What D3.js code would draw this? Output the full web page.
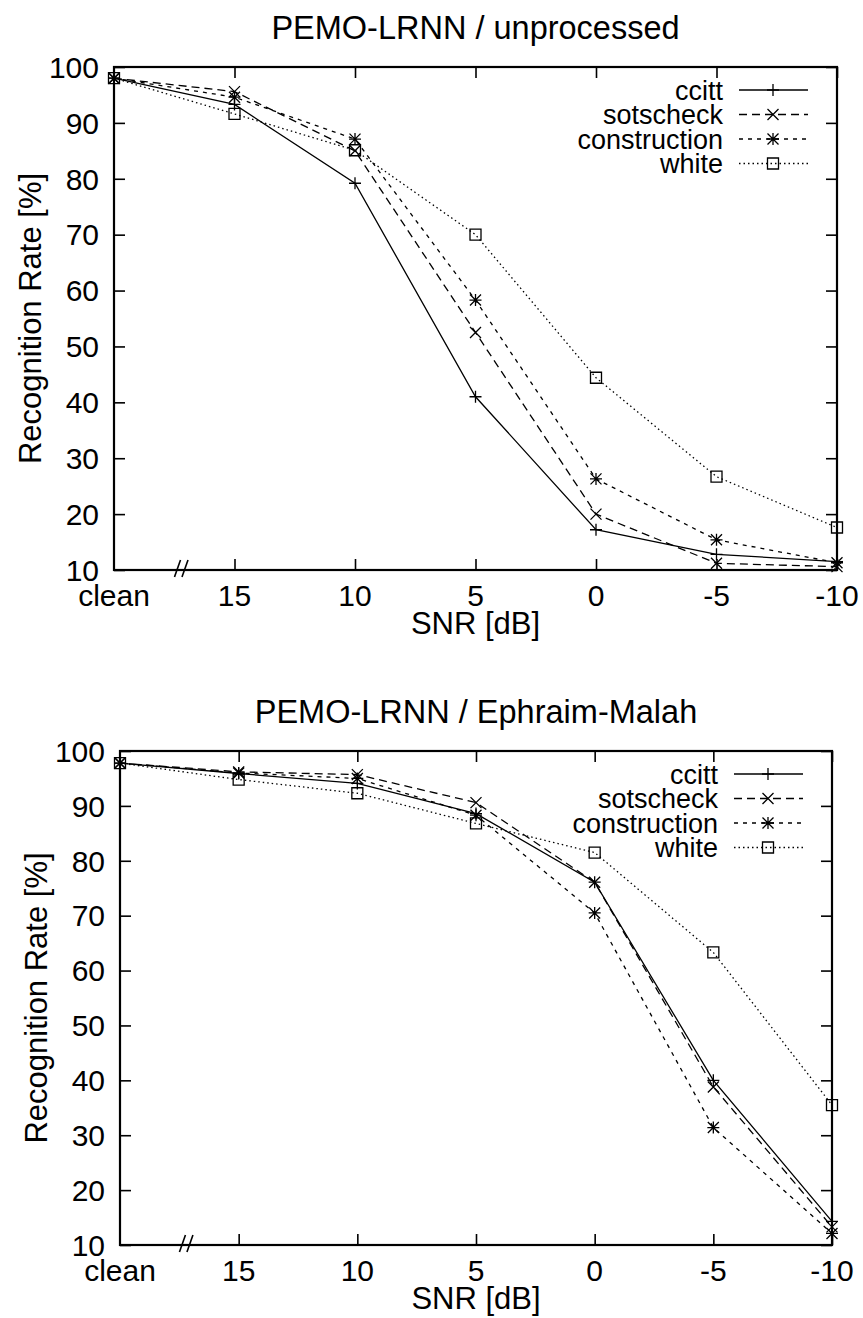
<!DOCTYPE html>
<html>
<head>
<meta charset="utf-8">
<script src="https://cdn.jsdelivr.net/npm/d3@7"></script>
<style>
  html, body { margin: 0; padding: 0; background: #fff; }
  svg { display: block; }
  text { font-family: "Liberation Sans", Arial, Helvetica, sans-serif; fill: #000; }
</style>
</head>
<body>
<svg id="chart" width="863" height="1318"></svg>
<script>
// ---- data ----
const categories = ["clean", "15", "10", "5", "0", "-5", "-10"];
const yTickValues = [10, 20, 30, 40, 50, 60, 70, 80, 90, 100];
const seriesNames = ["ccitt", "sotscheck", "construction", "white"];

const titleTop = "PEMO-LRNN / unprocessed";
const titleBottom = "PEMO-LRNN / Ephraim-Malah";
const xAxisLabel = "SNR [dB]";
const yAxisLabel = "Recognition Rate [%]";

const unprocessedCcitt        = [98.0, 93.3, 79.2, 41.0, 17.2, 12.8, 11.5];
const unprocessedSotscheck    = [98.0, 95.6, 85.0, 52.5, 20.0, 11.2, 10.6];
const unprocessedConstruction = [98.0, 94.6, 87.1, 58.3, 26.3, 15.4, 11.3];
const unprocessedWhite        = [98.0, 91.6, 85.1, 70.0, 44.4, 26.7, 17.6];

const ephraimCcitt        = [97.8, 95.9, 94.1, 88.6, 76.1, 40.0, 14.3];
const ephraimSotscheck    = [97.8, 96.2, 95.7, 90.6, 76.1, 38.8, 13.3];
const ephraimConstruction = [97.8, 96.0, 95.0, 88.3, 70.5, 31.4, 12.1];
const ephraimWhite        = [97.8, 94.8, 92.3, 86.8, 81.5, 63.3, 35.5];

// ---- styles ----
const dashes = { ccitt: null, sotscheck: "8,5", construction: "4,5", white: "1.5,3" };
const markers = { ccitt: "plus", sotscheck: "cross", construction: "star", white: "square" };

const svg = d3.select("#chart");

function drawMarker(g, type, cx, cy) {
  const s = 6;
  const path = d3.path();
  if (type === "plus" || type === "star") {
    path.moveTo(cx - s, cy); path.lineTo(cx + s, cy);
    path.moveTo(cx, cy - s); path.lineTo(cx, cy + s);
  }
  if (type === "cross" || type === "star") {
    const c = 5.5;
    path.moveTo(cx - c, cy - c); path.lineTo(cx + c, cy + c);
    path.moveTo(cx - c, cy + c); path.lineTo(cx + c, cy - c);
  }
  if (type === "square") {
    const q = 5.5;
    path.rect(cx - q, cy - q, 2 * q, 2 * q);
  }
  g.append("path").attr("d", path.toString())
    .attr("fill", "none").attr("stroke", "#000").attr("stroke-width", 1.3);
}

function drawChart(cfg) {
  const { left, right, top, bottom, title, series } = cfg;
  const g = svg.append("g");

  const x = d3.scaleLinear().domain([0, categories.length - 1]).range([left, right]);
  const y = d3.scaleLinear().domain([10, 100]).range([bottom, top]);

  const xIdx = d3.range(categories.length);
  const tickLen = 11;

  g.append("g").attr("transform", `translate(0,${bottom})`)
    .call(d3.axisTop(x).tickValues(xIdx.slice(1)).tickSize(tickLen).tickFormat(""))
    .call(a => a.select(".domain").remove());
  g.append("g").attr("transform", `translate(0,${top})`)
    .call(d3.axisBottom(x).tickValues(xIdx.slice(1)).tickSize(tickLen).tickFormat(""))
    .call(a => a.select(".domain").remove());
  g.append("g").attr("transform", `translate(${left},0)`)
    .call(d3.axisRight(y).tickValues(yTickValues).tickSize(tickLen).tickFormat(""))
    .call(a => a.select(".domain").remove());
  g.append("g").attr("transform", `translate(${right},0)`)
    .call(d3.axisLeft(y).tickValues(yTickValues).tickSize(tickLen).tickFormat(""))
    .call(a => a.select(".domain").remove());
  g.selectAll(".tick line").attr("stroke", "#000").attr("stroke-width", 1.6);

  // tick labels
  g.selectAll(".xlab").data(categories).enter().append("text")
    .attr("x", (d, i) => x(i)).attr("y", bottom + 36)
    .attr("text-anchor", "middle").attr("font-size", 30).text(d => d);
  g.selectAll(".ylab").data(yTickValues).enter().append("text")
    .attr("x", left - 15).attr("y", d => y(d)).attr("dy", "0.36em")
    .attr("text-anchor", "end").attr("font-size", 30).text(d => d);

  // frame
  g.append("rect").attr("x", left).attr("y", top)
    .attr("width", right - left).attr("height", bottom - top)
    .attr("fill", "none").attr("stroke", "#000").attr("stroke-width", 2.2);

  // axis break marks "//"
  const bx = x(0.56);
  [[-7, -1], [0.5, 6.5]].forEach(([a, b]) => {
    g.append("line").attr("x1", bx + a).attr("y1", bottom + 7)
      .attr("x2", bx + b).attr("y2", bottom - 10)
      .attr("stroke", "#000").attr("stroke-width", 1.6);
  });

  // titles
  g.append("text").attr("x", (left + right) / 2).attr("y", top - 28)
    .attr("text-anchor", "middle").attr("font-size", 32.5).text(title);
  g.append("text").attr("x", (left + right) / 2).attr("y", bottom + 64)
    .attr("text-anchor", "middle").attr("font-size", 31).text(xAxisLabel);
  g.append("text")
    .attr("transform", `translate(${left - 84},${(top + bottom) / 2}) rotate(-90)`)
    .attr("text-anchor", "middle").attr("dy", "0.36em").attr("font-size", 31).text(yAxisLabel);

  // series
  const line = d3.line().x((d, i) => x(i)).y(d => y(d));
  seriesNames.forEach((name, si) => {
    const vals = series[si];
    g.append("path").attr("d", line(vals))
      .attr("fill", "none").attr("stroke", "#000").attr("stroke-width", 1.3)
      .attr("stroke-dasharray", dashes[name]);
    vals.forEach((v, i) => drawMarker(g, markers[name], x(i), y(v)));
  });

  // legend
  seriesNames.forEach((name, si) => {
    const ly = top + 23 + si * 24.5;
    g.append("text").attr("x", right - 114).attr("y", ly).attr("dy", "0.36em")
      .attr("text-anchor", "end").attr("font-size", 27).text(name);
    g.append("line").attr("x1", right - 98).attr("x2", right - 29)
      .attr("y1", ly).attr("y2", ly)
      .attr("stroke", "#000").attr("stroke-width", 1.3)
      .attr("stroke-dasharray", dashes[name]);
    drawMarker(g, markers[name], right - 64, ly);
  });
}

drawChart({
  left: 114, right: 837, top: 67, bottom: 570, title: titleTop,
  series: [unprocessedCcitt, unprocessedSotscheck, unprocessedConstruction, unprocessedWhite]
});
drawChart({
  left: 120, right: 832, top: 751, bottom: 1245, title: titleBottom,
  series: [ephraimCcitt, ephraimSotscheck, ephraimConstruction, ephraimWhite]
});
</script>
</body>
</html>
